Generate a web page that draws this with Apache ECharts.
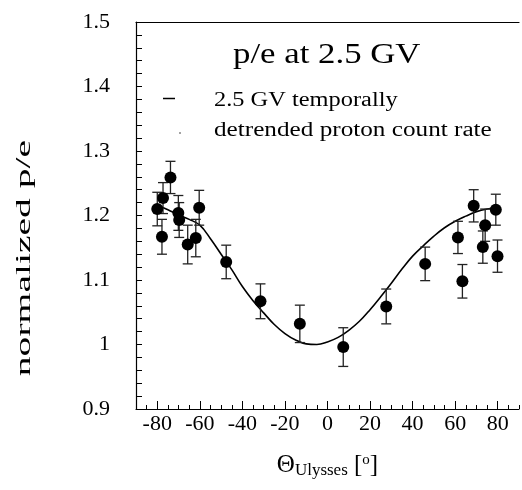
<!DOCTYPE html>
<html>
<head>
<meta charset="utf-8">
<script src="https://cdn.jsdelivr.net/npm/echarts@6/dist/echarts.min.js"></script>
<style>
  html, body { margin: 0; padding: 0; background: #fff; }
  #main { width: 522px; height: 490px; }
</style>
</head>
<body>
<div id="main"></div>
<script>
// measured points (Ulysses latitude, normalized p/e, error)
var lat = [-80, -77.8, -77.3, -73.8, -70.1, -69.7, -65.7, -61.9, -60.3, -47.6, -31.5, -13.0,
           7.4, 27.6, 45.9, 61.3, 63.4, 68.7, 73.0, 74.1, 79.1, 79.9];
var pe = [1.210, 1.167, 1.227, 1.259, 1.204, 1.193, 1.155, 1.165, 1.212, 1.128, 1.067, 1.032,
          0.996, 1.059, 1.125, 1.166, 1.098, 1.215, 1.151, 1.185, 1.209, 1.137];
var peErr = [0.026, 0.027, 0.024, 0.025, 0.027, 0.027, 0.030, 0.029, 0.027, 0.026, 0.027, 0.029,
             0.030, 0.027, 0.026, 0.025, 0.026, 0.025, 0.025, 0.025, 0.024, 0.025];

// detrended proton count rate curve
var curveX = [-80, -75, -70, -65, -60, -55, -50, -45, -40, -35, -30, -25, -20, -15, -10, -5, 0,
              5, 10, 15, 20, 25, 30, 35, 40, 45, 50, 55, 60, 65, 70, 75, 80];
var curveY = [1.216, 1.209, 1.201, 1.194, 1.185, 1.164, 1.140, 1.116, 1.090, 1.068, 1.049, 1.031,
              1.017, 1.007, 1.001, 1.000, 1.004, 1.011, 1.022, 1.036, 1.054, 1.074, 1.095, 1.117,
              1.137, 1.153, 1.168, 1.181, 1.191, 1.199, 1.206, 1.210, 1.212];

var xMajor = [-80, -60, -40, -20, 0, 20, 40, 60, 80];

var font = 'Liberation Serif';

var points = [];
var bars = [];
for (var i = 0; i < lat.length; i++) {
    points.push([lat[i], pe[i]]);
    bars.push([lat[i], pe[i] - peErr[i], pe[i] + peErr[i]]);
}
var curve = [];
for (var j = 0; j < curveX.length; j++) {
    curve.push([curveX[j], curveY[j]]);
}

var myChart = echarts.init(document.getElementById('main'));

var option = {
    backgroundColor: '#fff',
    animation: false,
    grid: { left: 136, top: 22, right: 0, bottom: 81 },
    xAxis: [
        {
            type: 'value', min: -90, max: 90, interval: 5, position: 'bottom',
            axisLine: { onZero: false, lineStyle: { color: '#000', width: 1.2 } },
            axisTick: { inside: true, length: 4, lineStyle: { color: '#000' } },
            axisLabel: {
                color: '#000', fontFamily: font, fontSize: 22, margin: 4,
                formatter: function (v) { return v % 20 === 0 ? String(v) : ''; }
            },
            splitLine: { show: false },
            name: '{t|\u0398}{s|Ulysses}{t| [}{o|o}{t|]}',
            nameLocation: 'middle',
            nameGap: 44,
            nameTextStyle: {
                color: '#000', fontFamily: font,
                rich: {
                    t: { fontFamily: font, fontSize: 25, color: '#000', lineHeight: 26, verticalAlign: 'top' },
                    s: { fontFamily: font, fontSize: 17, color: '#000', lineHeight: 17, padding: [22, 0, 0, 0], verticalAlign: 'bottom' },
                    o: { fontFamily: font, fontSize: 15, color: '#000', lineHeight: 15, verticalAlign: 'top' }
                }
            }
        },
        {
            type: 'value', min: -90, max: 90, position: 'bottom',
            axisLine: { show: false, onZero: false },
            axisTick: { show: true, inside: true, length: 8, customValues: xMajor, lineStyle: { color: '#000' } },
            axisLabel: { show: false },
            splitLine: { show: false }
        },
        {
            type: 'value', min: -90, max: 90, position: 'top',
            axisLine: { show: true, onZero: false, lineStyle: { color: '#000', width: 1.2 } },
            axisTick: { show: false },
            axisLabel: { show: false },
            splitLine: { show: false }
        }
    ],
    yAxis: {
        type: 'value', min: 0.9, max: 1.5, interval: 0.1, position: 'left',
        axisLine: { show: true, onZero: false, lineStyle: { color: '#000', width: 1.2 } },
        axisTick: { show: true, inside: true, length: 6, lineStyle: { color: '#000' } },
        minorTick: { show: true, splitNumber: 5, length: 6, lineStyle: { color: '#000' } },
        axisLabel: {
            color: '#000', fontFamily: font, fontSize: 22, margin: 26,
            formatter: function (v) { return String(+v.toFixed(1)); }
        },
        splitLine: { show: false }
    },
    graphic: [
        {
            type: 'text', x: 233, y: 55, scaleX: 1.2,
            style: { text: 'p/e at 2.5 GV', fill: '#000', font: '29px "Liberation Serif"', textAlign: 'left', textVerticalAlign: 'middle' }
        },
        {
            type: 'line', shape: { x1: 163, y1: 98.5, x2: 175, y2: 98.5 },
            style: { stroke: '#000', lineWidth: 1.5 }
        },
        {
            type: 'circle', shape: { cx: 180, cy: 133, r: 0.7 },
            style: { fill: '#000' }
        },
        {
            type: 'text', x: 214, y: 101, scaleX: 1.22,
            style: { text: '2.5 GV temporally', fill: '#000', font: '20px "Liberation Serif"', textAlign: 'left', textVerticalAlign: 'middle' }
        },
        {
            type: 'text', x: 214, y: 131, scaleX: 1.26,
            style: { text: 'detrended proton count rate', fill: '#000', font: '20px "Liberation Serif"', textAlign: 'left', textVerticalAlign: 'middle' }
        },
        {
            // y axis title, stretched along its length like the original
            type: 'text', x: 24, y: 258, rotation: Math.PI / 2, scaleX: 1.8,
            style: { text: 'normalized p/e', fill: '#000', font: '22px "Liberation Serif"', textAlign: 'center', textVerticalAlign: 'middle' }
        }
    ],
    series: [
        {
            name: 'curve',
            type: 'line',
            data: curve,
            smooth: 0.4,
            symbol: 'none',
            lineStyle: { color: '#000', width: 1.6 },
            z: 2
        },
        {
            name: 'errors',
            type: 'custom',
            data: bars,
            renderItem: function (params, api) {
                var x = api.value(0);
                var lo = api.coord([x, api.value(1)]);
                var hi = api.coord([x, api.value(2)]);
                var w = 5;
                var st = { stroke: '#222', lineWidth: 1.3 };
                return {
                    type: 'group',
                    children: [
                        { type: 'line', shape: { x1: lo[0], y1: lo[1], x2: hi[0], y2: hi[1] }, style: st },
                        { type: 'line', shape: { x1: lo[0] - w, y1: lo[1], x2: lo[0] + w, y2: lo[1] }, style: st },
                        { type: 'line', shape: { x1: hi[0] - w, y1: hi[1], x2: hi[0] + w, y2: hi[1] }, style: st }
                    ]
                };
            },
            z: 3
        },
        {
            name: 'p/e',
            type: 'scatter',
            data: points,
            symbol: 'circle',
            symbolSize: 12,
            itemStyle: { color: '#000', opacity: 1 },
            z: 4
        }
    ]
};

myChart.setOption(option);
</script>
</body>
</html>
